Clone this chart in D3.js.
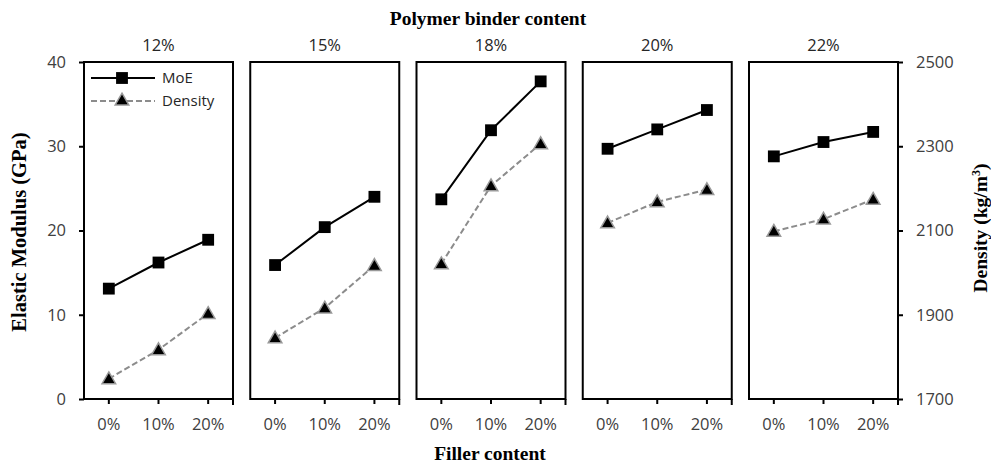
<!DOCTYPE html>
<head>
  <meta charset="utf-8">
  <script src="https://d3js.org/d3.v7.min.js"></script>
  <style>
    body { margin: 0; background: #fff; }
  </style>
</head>
<body>
  <svg width="991" height="465"></svg>
  <script>
    // polymer binder content -> one panel each
    const binders = ['12%', '15%', '18%', '20%', '22%'];
    const fillers = ['0%', '10%', '20%'];
    // MoE (GPa), one row per binder panel
    const moe = [
      [13.1, 16.2, 18.9],
      [15.9, 20.4, 24.0],
      [23.7, 31.9, 37.7],
      [29.7, 32.0, 34.3],
      [28.8, 30.5, 31.7]
    ];
    // Density (kg/m3)
    const density = [
      [1748, 1817, 1903],
      [1845, 1916, 2017],
      [2021, 2206, 2306],
      [2118, 2168, 2197],
      [2098, 2127, 2174]
    ];
    const moeTicks = [0, 10, 20, 30, 40];
    const densTicks = [1700, 1900, 2100, 2300, 2500];

    const svg = d3.select('svg');
    const plotLeft = 84, plotRight = 898, plotTop = 62, plotBottom = 399;
    const gap = 17.25;
    const pw = (plotRight - plotLeft - gap * (binders.length - 1)) / binders.length;
    const sans = '"Open Sans", sans-serif';
    const serif = '"Liberation Serif", "Times New Roman", serif';

    const yL = d3.scaleLinear().domain([0, 40]).range([plotBottom, plotTop]);
    const yR = d3.scaleLinear().domain([1700, 2500]).range([plotBottom, plotTop]);
    const tickColor = '#404040';

    const styleAxis = g => {
      g.select('.domain').remove();
      g.selectAll('line').attr('stroke', '#000').attr('stroke-width', 2);
      g.selectAll('text').attr('fill', tickColor)
        .style('font-family', sans).style('font-size', '16.5px');
    };

    // left axis
    svg.append('g').attr('transform', `translate(${plotLeft},0)`)
      .call(d3.axisLeft(yL).tickValues(moeTicks).tickSize(5).tickPadding(13))
      .call(styleAxis);

    // right axis
    svg.append('g').attr('transform', `translate(${plotRight},0)`)
      .call(d3.axisRight(yR).tickValues(densTicks).tickSize(5).tickPadding(13)
        .tickFormat(d3.format('d')))
      .call(styleAxis);

    const sq = d3.symbol().type(d3.symbolSquare).size(140);
    const tri = d3.symbol().type(d3.symbolTriangle).size(80);

    binders.forEach((b, i) => {
      const x0 = plotLeft + i * (pw + gap);
      const x = d3.scaleBand().domain(fillers).range([x0, x0 + pw]);
      const cx = f => x(f) + x.bandwidth() / 2;
      const g = svg.append('g');

      // x ticks at category centres and right edge
      g.append('g').attr('transform', `translate(0,${plotBottom})`)
        .call(d3.axisBottom(x).tickSize(5).tickPadding(14))
        .call(styleAxis);
      g.append('line')
        .attr('x1', x0 + pw).attr('x2', x0 + pw)
        .attr('y1', plotBottom).attr('y2', plotBottom + 6)
        .attr('stroke', '#000').attr('stroke-width', 2);

      // frame
      g.append('rect')
        .attr('x', x0).attr('y', plotTop).attr('width', pw).attr('height', plotBottom - plotTop)
        .attr('fill', 'none').attr('stroke', '#000').attr('stroke-width', 2);

      // panel title
      g.append('text')
        .attr('x', x0 + pw / 2).attr('y', 51)
        .attr('text-anchor', 'middle').attr('fill', '#262626')
        .style('font-family', sans).style('font-size', '16.5px')
        .text(b);

      // density
      const dl = d3.line().x((d, j) => cx(fillers[j])).y(d => yR(d));
      g.append('path').attr('d', dl(density[i]))
        .attr('fill', 'none').attr('stroke', '#8c8c8c').attr('stroke-width', 2)
        .attr('stroke-dasharray', '6,3');
      g.selectAll('.tri').data(density[i]).join('path')
        .attr('transform', (d, j) => `translate(${cx(fillers[j])},${yR(d) + 1})`)
        .attr('d', tri)
        .attr('fill', '#000').attr('stroke', '#999').attr('stroke-width', 1.5);

      // MoE
      const ml = d3.line().x((d, j) => cx(fillers[j])).y(d => yL(d));
      g.append('path').attr('d', ml(moe[i]))
        .attr('fill', 'none').attr('stroke', '#000').attr('stroke-width', 2);
      g.selectAll('.sq').data(moe[i]).join('path')
        .attr('transform', (d, j) => `translate(${cx(fillers[j])},${yL(d)})`)
        .attr('d', sq).attr('fill', '#000');
    });

    // legend
    const lg = svg.append('g').attr('transform', `translate(${plotLeft + 7},${plotTop + 16})`);
    lg.append('line').attr('x1', 0).attr('x2', 64).attr('y1', 0).attr('y2', 0)
      .attr('stroke', '#000').attr('stroke-width', 2);
    lg.append('path').attr('d', sq).attr('transform', 'translate(31,0)').attr('fill', '#000');
    lg.append('text').attr('x', 71).attr('y', 5).attr('fill', '#262626')
      .style('font-family', sans).style('font-size', '15px').text('MoE');
    lg.append('line').attr('x1', 0).attr('x2', 64).attr('y1', 23).attr('y2', 23)
      .attr('stroke', '#8c8c8c').attr('stroke-width', 2).attr('stroke-dasharray', '6,3');
    lg.append('path').attr('d', tri).attr('transform', 'translate(31,23)')
      .attr('fill', '#000').attr('stroke', '#999').attr('stroke-width', 1.5);
    lg.append('text').attr('x', 71).attr('y', 28).attr('fill', '#262626')
      .style('font-family', sans).style('font-size', '15px').text('Density');

    // axis titles
    const title = (sel, size) => sel.attr('text-anchor', 'middle')
      .style('font-family', serif).style('font-weight', 'bold').style('font-size', size + 'px');
    svg.append('text').attr('x', 488).attr('y', 25).call(title, 19.5)
      .text('Polymer binder content');
    svg.append('text').attr('x', 490).attr('y', 460).call(title, 19.5)
      .text('Filler content');
    svg.append('text').attr('transform', 'translate(26,232) rotate(-90)').call(title, 20.5)
      .text('Elastic Modulus (GPa)');
    const dt = svg.append('text').attr('transform', 'translate(987,228) rotate(-90)').call(title, 19.5);
    dt.append('tspan').text('Density (kg/m');
    dt.append('tspan').style('font-size', '12px').attr('dy', -7).text('3');
    dt.append('tspan').attr('dy', 7).text(')');
  </script>
</body>
